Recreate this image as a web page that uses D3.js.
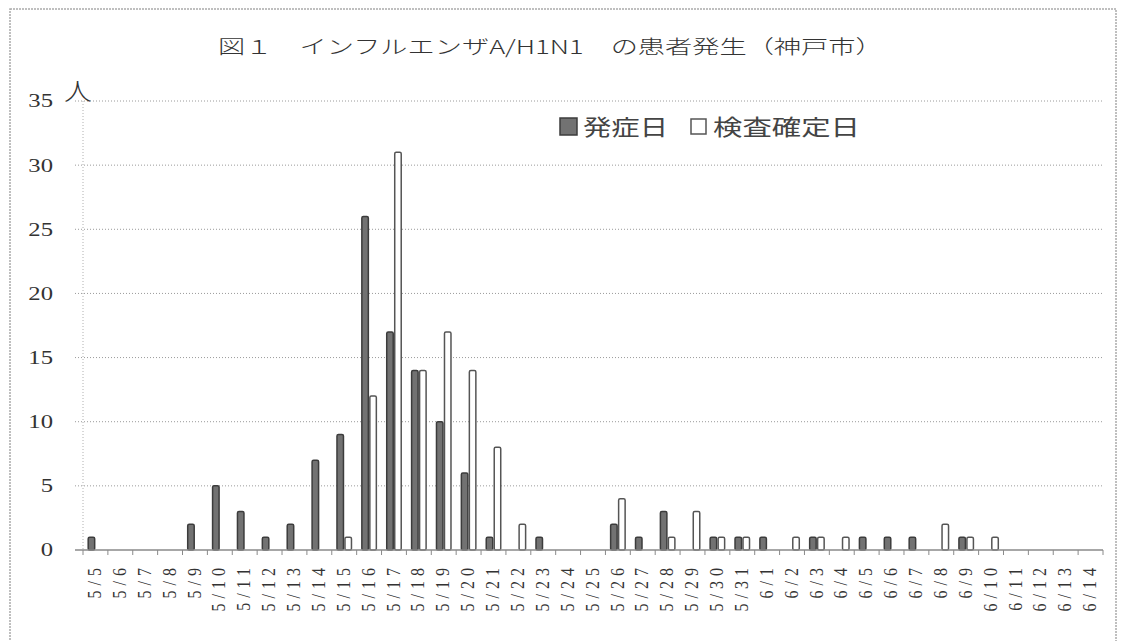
<!DOCTYPE html>
<html>
<head>
<meta charset="utf-8">
<script src="https://cdn.jsdelivr.net/npm/d3@7"></script>
<style>
  html, body { margin: 0; padding: 0; background: #fff; }
  svg { display: block; }
  .num { font-family: "Liberation Serif", "DejaVu Serif", "Times New Roman", "Noto Serif", serif; }
  .jp { font-family: "Noto Sans CJK JP", "Noto Sans", sans-serif; }
</style>
</head>
<body>
<svg id="chart" width="1122" height="641"></svg>
<script>
// Daily counts of A/H1N1 cases in Kobe, 5/5 - 6/14
const dates = [
  "5/5","5/6","5/7","5/8","5/9","5/10","5/11","5/12","5/13","5/14",
  "5/15","5/16","5/17","5/18","5/19","5/20","5/21","5/22","5/23","5/24",
  "5/25","5/26","5/27","5/28","5/29","5/30","5/31","6/1","6/2","6/3",
  "6/4","6/5","6/6","6/7","6/8","6/9","6/10","6/11","6/12","6/13","6/14"
];
// 発症日 (date of onset)
const onset = [
  1,0,0,0,2,5,3,1,2,7,
  9,26,17,14,10,6,1,0,1,0,
  0,2,1,3,0,1,1,1,0,1,
  0,1,1,1,0,1,0,0,0,0,0
];
// 検査確定日 (date confirmed by test)
const confirmed = [
  0,0,0,0,0,0,0,0,0,0,
  1,12,31,14,17,14,8,2,0,0,
  0,4,0,1,3,1,1,0,1,1,
  1,0,0,0,2,1,1,0,0,0,0
];
const yTicks = [0, 5, 10, 15, 20, 25, 30, 35];
const seriesNames = ["発症日", "検査確定日"];
const titleText = "図１　インフルエンザA/H1N1　の患者発生（神戸市）";
const unitLabel = "人";

const svg = d3.select("#chart");
const plot = { left: 83, right: 1103, top: 101, bottom: 550 };
const ink = "#333";

// outer frame
svg.append("rect")
  .attr("x", 10).attr("y", 9)
  .attr("width", 1106).attr("height", 660)
  .attr("fill", "none").attr("stroke", "#aaa").attr("stroke-width", 1.5)
  .attr("stroke-dasharray", "2,1");

const x = d3.scaleBand().domain(dates).range([plot.left, plot.right]).padding(0);
const barW = 8;
const inner = d3.scaleBand().domain([0, 1])
  .range([x.bandwidth() / 2 - barW, x.bandwidth() / 2 + barW]).padding(0);
const y = d3.scaleLinear().domain([0, 35]).range([plot.bottom, plot.top]);

// horizontal gridlines
svg.append("g").selectAll("line")
  .data(yTicks.filter(t => t > 0))
  .join("line")
  .attr("x1", plot.left - 8).attr("x2", plot.right)
  .attr("y1", d => y(d)).attr("y2", d => y(d))
  .attr("stroke", "#9a9a9a").attr("stroke-width", 1)
  .attr("stroke-dasharray", "1,2");

// left axis (dotted)
svg.append("line")
  .attr("x1", plot.left).attr("x2", plot.left)
  .attr("y1", y(35)).attr("y2", y(0))
  .attr("stroke", "#b0b0b0").attr("stroke-dasharray", "1,2");

// bars
const series = [onset, confirmed];
const barStyle = [
  { fill: "#727272", stroke: "#3c3c3c" },
  { fill: "#ffffff", stroke: "#555555" }
];
series.forEach((vals, si) => {
  svg.append("g").selectAll("rect")
    .data(dates.map((d, i) => ({ d, v: vals[i] })).filter(o => o.v > 0))
    .join("rect")
    .attr("x", o => x(o.d) + inner(si) + 0.75)
    .attr("y", o => y(o.v))
    .attr("width", inner.bandwidth() - 1.5)
    .attr("height", o => y(0) - y(o.v))
    .attr("rx", 1.5)
    .attr("fill", barStyle[si].fill)
    .attr("stroke", barStyle[si].stroke)
    .attr("stroke-width", 1.5);
});

// x axis baseline and ticks
svg.append("line")
  .attr("x1", plot.left - 8).attr("x2", plot.right)
  .attr("y1", y(0)).attr("y2", y(0))
  .attr("stroke", "#8a8a8a").attr("stroke-width", 1.5);
const bounds = dates.map(d => x(d)).concat([plot.right]);
svg.append("g").selectAll("line")
  .data(bounds).join("line")
  .attr("x1", d => d).attr("x2", d => d)
  .attr("y1", y(0)).attr("y2", y(0) + 5)
  .attr("stroke", "#8a8a8a").attr("stroke-width", 1);

// x labels, rotated to read bottom-up
const ls = 5;
svg.append("g").selectAll("text")
  .data(dates).join("text")
  .attr("class", "num")
  .attr("transform", d => `translate(${x(d) + x.bandwidth() / 2 - 1},${568 - ls}) scale(1.15,1) rotate(-90)`)
  .attr("text-anchor", "end")
  .attr("dy", "0.36em")
  .attr("font-size", 16)
  .attr("letter-spacing", ls)
  .attr("fill", ink)
  .text(d => d);

// y labels
svg.append("g").selectAll("text")
  .data(yTicks).join("text")
  .attr("class", "num")
  .attr("transform", d => `translate(53,${y(d)}) scale(1.3,1)`)
  .attr("text-anchor", "end")
  .attr("dy", "0.34em")
  .attr("font-size", 19)
  .attr("fill", ink)
  .text(d => d);

// unit label
svg.append("text")
  .attr("class", "jp")
  .attr("transform", "translate(64,100) scale(1.15,1)")
  .attr("font-weight", 300)
  .attr("font-size", 24).attr("fill", ink)
  .text(unitLabel);

// fit a text element horizontally between x0 and x1
function fitText(sel, x0, x1, baseY) {
  const w = sel.node().getComputedTextLength();
  const k = (x1 - x0) / w;
  sel.attr("transform", `translate(${x0},${baseY}) scale(${k},1)`);
}

// title
const title = svg.append("text")
  .attr("class", "jp").attr("font-weight", 300)
  .attr("font-size", 19).attr("fill", ink)
  .text(titleText);
fitText(title, 218, 883, 54);

// legend
svg.append("rect").attr("x", 560).attr("y", 118).attr("width", 17).attr("height", 17)
  .attr("fill", barStyle[0].fill).attr("stroke", barStyle[0].stroke).attr("stroke-width", 1.5);
const leg1 = svg.append("text")
  .attr("class", "jp").attr("font-size", 22).attr("fill", "#444")
  .text(seriesNames[0]);
fitText(leg1, 583, 668, 135);
svg.append("rect").attr("x", 691).attr("y", 119).attr("width", 15).attr("height", 15)
  .attr("fill", "#fff").attr("stroke", "#555").attr("stroke-width", 1.5);
const leg2 = svg.append("text")
  .attr("class", "jp").attr("font-size", 22).attr("fill", "#444")
  .text(seriesNames[1]);
fitText(leg2, 713, 860, 135);
</script>
</body>
</html>
